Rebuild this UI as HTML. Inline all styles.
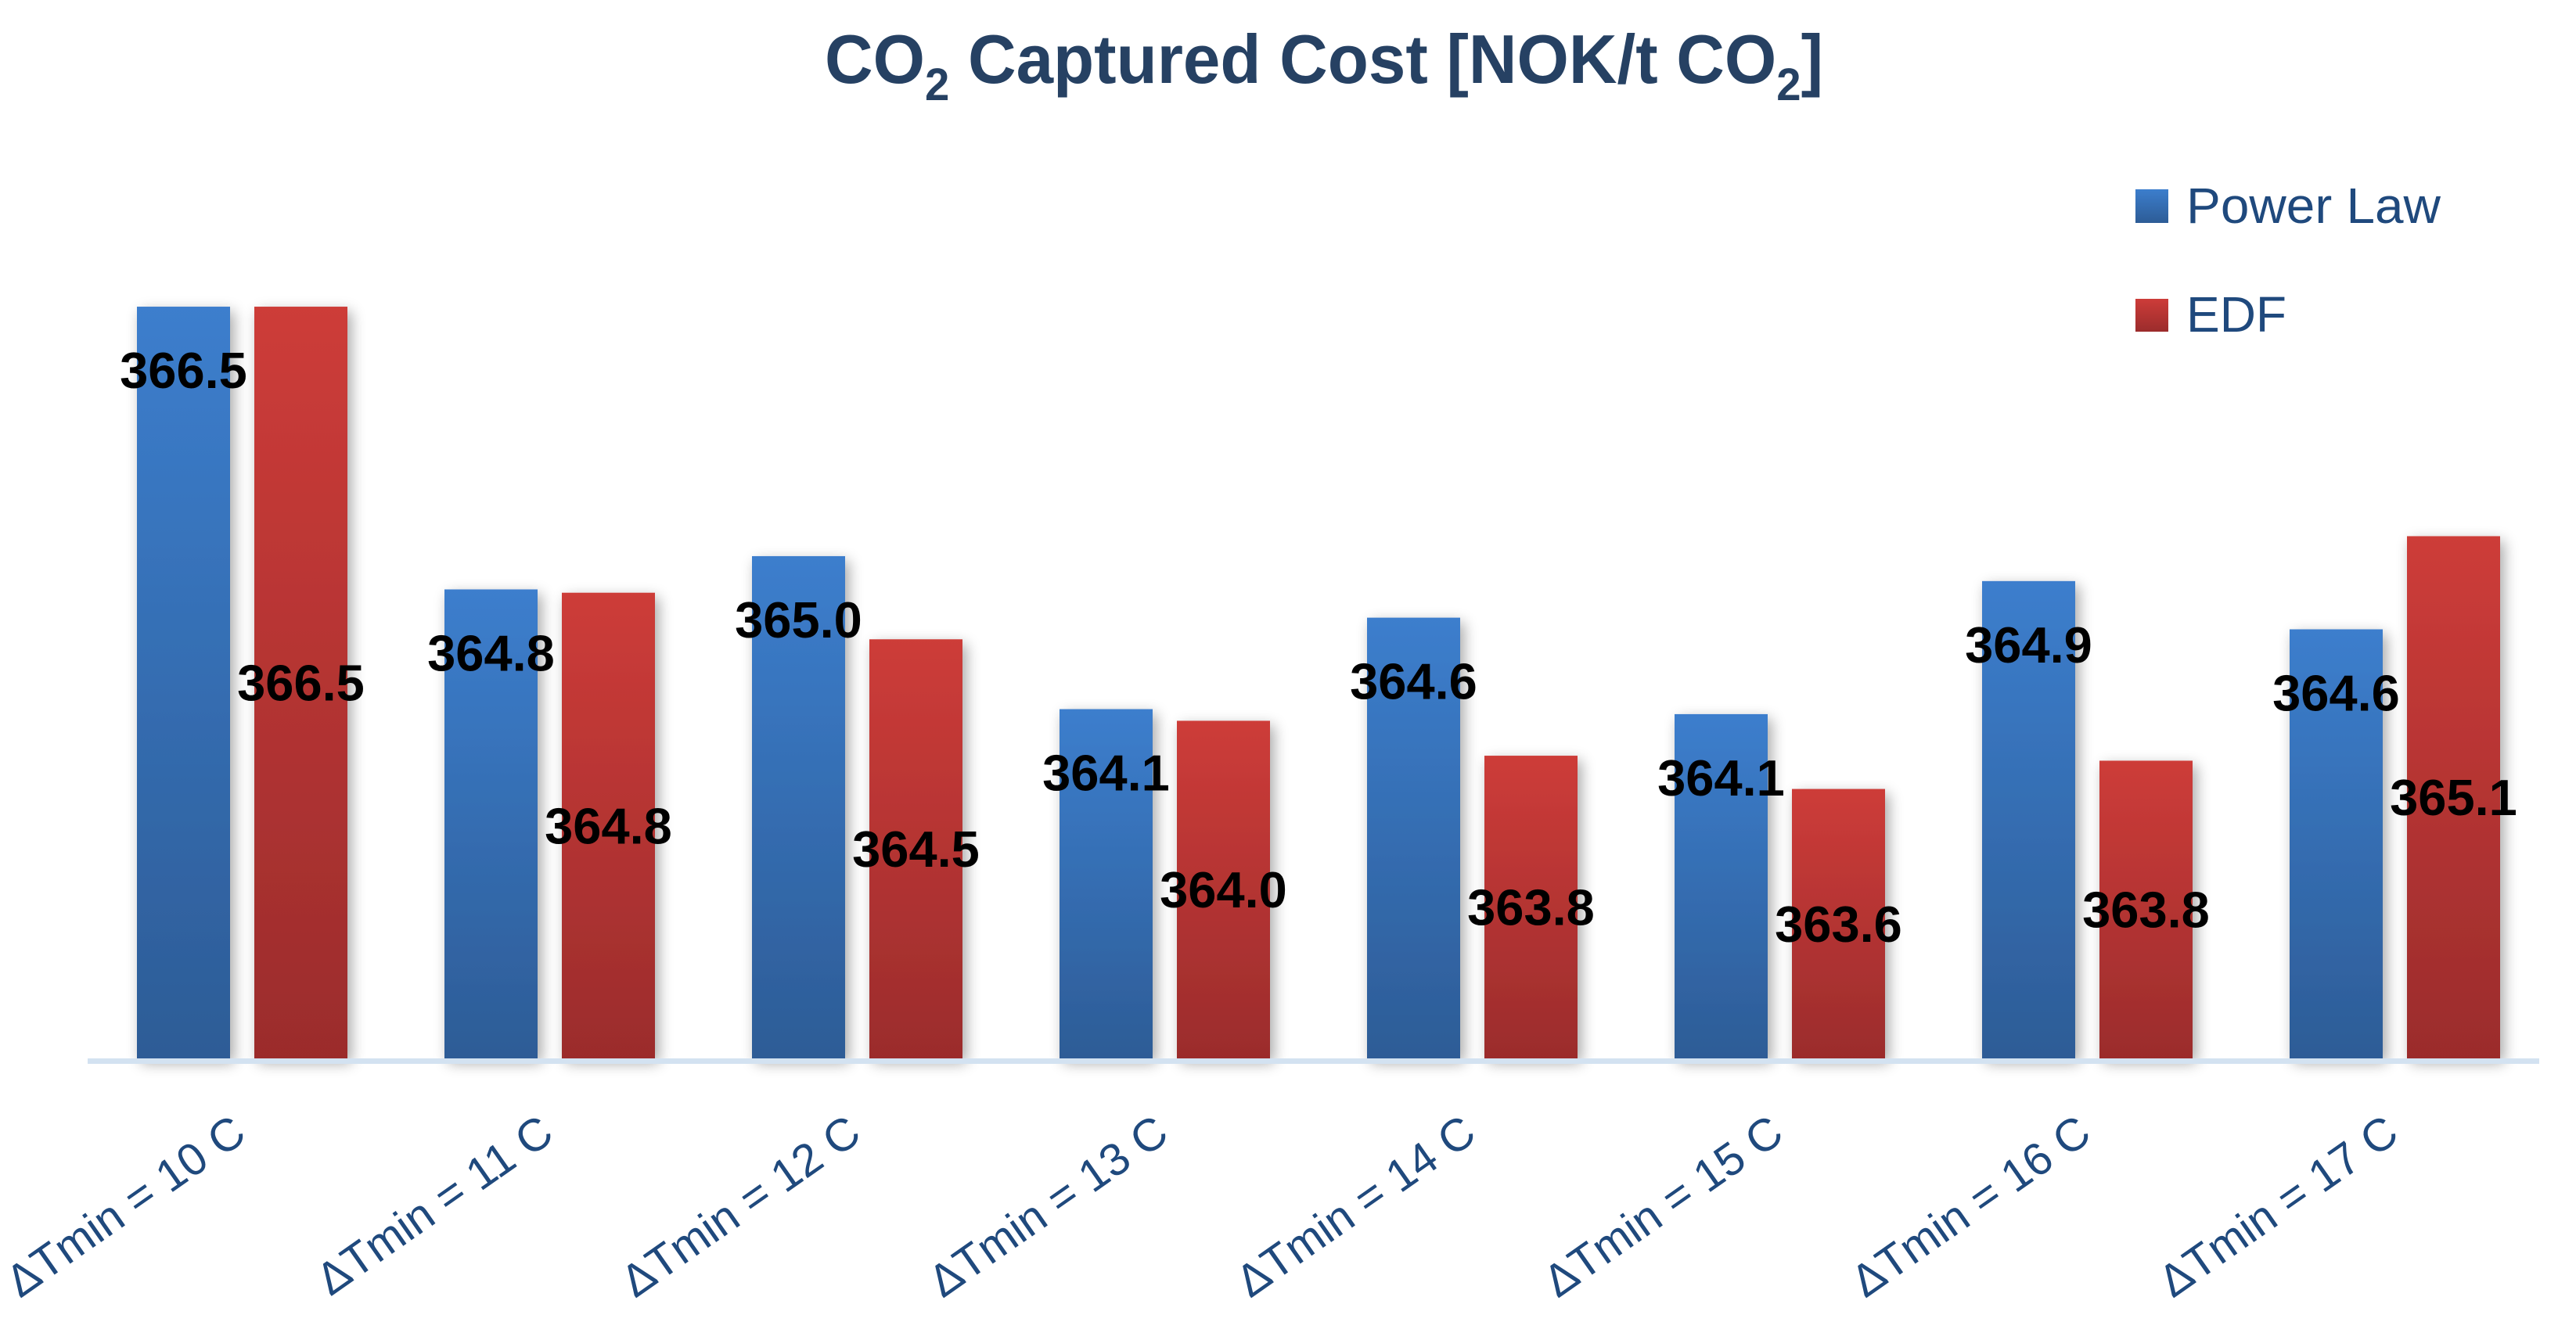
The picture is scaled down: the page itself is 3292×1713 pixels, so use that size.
<!DOCTYPE html>
<html><head><meta charset="utf-8"><style>
html,body{margin:0;padding:0;background:#fff;}
svg{display:block;}
</style></head><body>
<svg id="chart" width="3292" height="1713" viewBox="0 0 3292 1713" xmlns="http://www.w3.org/2000/svg">
<defs>
<linearGradient id="gBlue" x1="0" y1="0" x2="0" y2="1"><stop offset="0" stop-color="#3c7ecd"/><stop offset="1" stop-color="#2d5c96"/></linearGradient>
<linearGradient id="gRed" x1="0" y1="0" x2="0" y2="1"><stop offset="0" stop-color="#cd3c39"/><stop offset="1" stop-color="#9b2c2c"/></linearGradient>
<filter id="sh" x="-30%" y="-5%" width="160%" height="115%"><feGaussianBlur in="SourceAlpha" stdDeviation="9"/><feOffset dx="5" dy="6"/><feComponentTransfer><feFuncA type="linear" slope="0.35"/></feComponentTransfer><feMerge><feMergeNode/><feMergeNode in="SourceGraphic"/></feMerge></filter>
</defs>
<text x="1692" y="106" text-anchor="middle" font-family="'Liberation Sans',sans-serif" font-weight="bold" font-size="88" fill="#264163" textLength="1276" lengthAdjust="spacingAndGlyphs">CO<tspan font-size="58" dy="22">2</tspan><tspan dy="-22"> Captured Cost [NOK/t CO</tspan><tspan font-size="58" dy="22">2</tspan><tspan dy="-22">]</tspan></text>
<g>
<rect x="2729" y="242" width="42" height="43" fill="url(#gBlue)"/>
<text x="2794" y="285" font-family="'Liberation Sans',sans-serif" font-size="64" fill="#1f497d" textLength="325" lengthAdjust="spacingAndGlyphs">Power Law</text>
<rect x="2729" y="382" width="42" height="42" fill="url(#gRed)"/>
<text x="2794" y="424" font-family="'Liberation Sans',sans-serif" font-size="64" fill="#1f497d">EDF</text>
</g>
<g id="bars"></g>
<rect x="112" y="1353" width="3133" height="7" fill="#d3e2f1"/>
<g id="labels"></g>
</svg>
<script>
const categories = ["ΔTmin = 10 C","ΔTmin = 11 C","ΔTmin = 12 C","ΔTmin = 13 C","ΔTmin = 14 C","ΔTmin = 15 C","ΔTmin = 16 C","ΔTmin = 17 C"];
const powerLaw = [366.52,364.82,365.02,364.10,364.65,364.07,364.87,364.58];
const edf = [366.52,364.80,364.52,364.03,363.82,363.62,363.79,365.14];

const NS="http://www.w3.org/2000/svg";
const baseY=1353, yMin=362.0, pxPerUnit=212.6;
const x0=175, pitch=393, barW=119, redOff=150;
function yScale(v){return baseY-(v-yMin)*pxPerUnit;}
function xGroup(i){return x0+i*pitch;}
const bars=document.getElementById('bars');
const labels=document.getElementById('labels');
function mk(tag,attrs,parent){const e=document.createElementNS(NS,tag);for(const k in attrs)e.setAttribute(k,attrs[k]);parent.appendChild(e);return e;}
const font="'Liberation Sans',sans-serif";
categories.forEach((c,i)=>{
  const xb=xGroup(i), xr=xGroup(i)+redOff;
  const yb=yScale(powerLaw[i]), yr=yScale(edf[i]);
  const b=mk('rect',{x:xb,y:yb,width:barW,height:baseY-yb,fill:'url(#gBlue)',filter:'url(#sh)'},bars);
  
  
  const r=mk('rect',{x:xr,y:yr,width:barW,height:baseY-yr,fill:'url(#gRed)',filter:'url(#sh)'},bars);
  
  
  const lb=mk('text',{x:xb+barW/2,y:yb+104,'text-anchor':'middle','font-family':font,'font-weight':'bold','font-size':65,fill:'#000'},labels);
  lb.textContent=powerLaw[i].toFixed(1);
  
  
  const lr=mk('text',{x:xr+barW/2,y:(yr+baseY)/2+23,'text-anchor':'middle','font-family':font,'font-weight':'bold','font-size':65,fill:'#000'},labels);
  lr.textContent=edf[i].toFixed(1);
  
  
  const cx=xGroup(i)+(redOff+barW)/2+8, cy=1456;
  const t=mk('text',{x:cx,y:cy,'text-anchor':'end','font-family':font,'font-size':58,fill:'#1f497d',transform:'rotate(-35 '+cx+' '+cy+')'},labels);
  t.textContent=c;
  
  
});
</script>
</body></html>
